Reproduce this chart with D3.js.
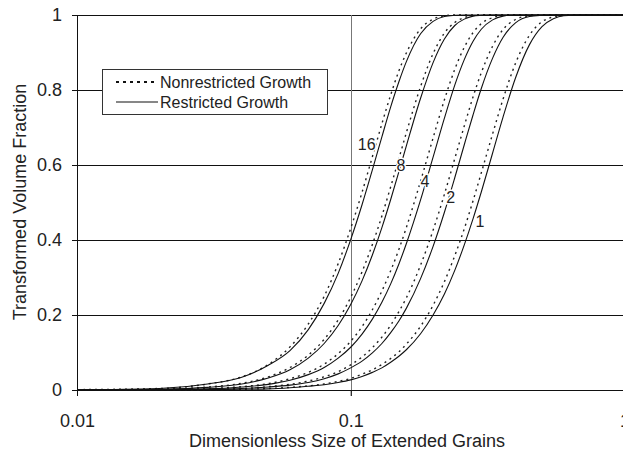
<!DOCTYPE html>
<html><head><meta charset="utf-8">
<script src="https://cdn.jsdelivr.net/npm/d3@7"></script>
<style>
body{margin:0;background:#fff}
svg{display:block}
text{font-family:"Liberation Sans",Arial,sans-serif;fill:#222}
</style>
</head><body>
<svg id="chart" width="623" height="452"></svg>
<script>
// ---- data ----
const xValues = [0.01,0.02,0.03,0.04,0.05,0.06,0.07,0.08,0.09,0.10,0.11,0.12,0.13,0.14,0.15,0.16,0.18,0.20,0.22,0.24,0.26,0.28,0.30,0.33,0.36,0.40,0.45,0.50,0.55,0.60,0.70,0.80,1.0];
const seriesLabels = ["16","8","4","2","1"];
const restricted16 = [0.0005,0.004,0.016,0.034,0.066,0.105,0.161,0.231,0.311,0.401,0.494,0.587,0.675,0.755,0.822,0.877,0.950,0.983,0.996,0.999,1,1,1,1,1,1,1,1,1,1,1,1,1];
const restricted8  = [0,0.002,0.007,0.016,0.032,0.054,0.085,0.124,0.172,0.228,0.291,0.360,0.433,0.508,0.582,0.653,0.778,0.873,0.936,0.972,0.989,0.997,0.999,1,1,1,1,1,1,1,1,1,1];
const restricted4  = [0,0.001,0.003,0.008,0.015,0.026,0.041,0.060,0.085,0.114,0.149,0.189,0.234,0.283,0.336,0.392,0.507,0.621,0.725,0.813,0.881,0.930,0.962,0.987,0.997,1,1,1,1,1,1,1,1];
const restricted2  = [0,0,0.002,0.004,0.008,0.013,0.020,0.030,0.043,0.059,0.077,0.099,0.124,0.153,0.184,0.219,0.297,0.383,0.474,0.566,0.654,0.734,0.804,0.885,0.940,0.979,0.996,0.999,1,1,1,1,1];
const restricted1  = [0,0,0.001,0.002,0.003,0.006,0.010,0.014,0.020,0.027,0.036,0.047,0.059,0.074,0.090,0.108,0.150,0.200,0.256,0.319,0.387,0.457,0.528,0.632,0.727,0.832,0.921,0.969,0.990,0.998,1,1,1];
const nonrestricted16 = [0.001,0.004,0.016,0.035,0.068,0.115,0.176,0.250,0.337,0.431,0.527,0.622,0.710,0.787,0.851,0.900,0.963,0.989,0.998,1,1,1,1,1,1,1,1,1,1,1,1,1,1];
const nonrestricted8  = [0,0.002,0.008,0.018,0.035,0.060,0.093,0.135,0.187,0.247,0.315,0.388,0.464,0.542,0.617,0.688,0.809,0.897,0.952,0.980,0.993,0.998,1,1,1,1,1,1,1,1,1,1,1];
const nonrestricted4  = [0,0.001,0.004,0.009,0.017,0.030,0.047,0.069,0.097,0.130,0.169,0.214,0.264,0.318,0.375,0.435,0.557,0.672,0.774,0.855,0.914,0.953,0.977,0.993,0.999,1,1,1,1,1,1,1,1];
const nonrestricted2  = [0,0.001,0.002,0.004,0.009,0.015,0.024,0.035,0.049,0.067,0.088,0.113,0.141,0.173,0.209,0.247,0.333,0.426,0.522,0.617,0.704,0.782,0.846,0.917,0.961,0.988,0.998,1,1,1,1,1,1];
const nonrestricted1  = [0,0,0.001,0.002,0.004,0.007,0.011,0.016,0.023,0.031,0.042,0.054,0.068,0.084,0.102,0.123,0.170,0.226,0.289,0.358,0.430,0.505,0.579,0.683,0.775,0.871,0.946,0.982,0.995,0.999,1,1,1];
// label anchor positions (data units)
const labelX = [0.1144,0.1527,0.1868,0.2319,0.2968];
const labelY = [0.656,0.600,0.557,0.515,0.449];
const yTicks = [0,0.2,0.4,0.6,0.8,1];
const yTickLabels = ["0","0.2","0.4","0.6","0.8","1"];
const xTicks = [0.01,0.1,1];
const xTickLabels = ["0.01","0.1","1"];
const legendLabels = ["Nonrestricted Growth","Restricted Growth"];
const xTitle = "Dimensionless Size of Extended Grains";
const yTitle = "Transformed Volume Fraction";

// ---- drawing ----
const svg = d3.select("#chart");
const x = d3.scaleLog().domain([0.01,1]).range([77,624.4]);
const y = d3.scaleLinear().domain([0,1]).range([390,15]);

// horizontal gridlines
svg.append("g").selectAll("line").data(yTicks.filter(d=>d>0)).join("line")
  .attr("x1",x(0.01)).attr("x2",x(1)).attr("y1",d=>y(d)).attr("y2",d=>y(d))
  .attr("stroke","#111").attr("stroke-width",1).attr("shape-rendering","crispEdges");
// vertical gridline at 0.1
svg.append("line").attr("x1",Math.round(x(0.1))+0.5).attr("x2",Math.round(x(0.1))+0.5)
  .attr("y1",y(1)).attr("y2",y(0)+6).attr("stroke","#777").attr("stroke-width",1);

// axes
const yAxis = d3.axisLeft(y).tickValues(yTicks).tickFormat((d,i)=>yTickLabels[i]).tickSize(5).tickPadding(10);
const gy = svg.append("g").attr("transform","translate(77,0)").call(yAxis);
gy.select(".domain").attr("stroke","#111");
gy.selectAll(".tick line").attr("stroke","#111");
gy.selectAll("text").attr("font-size",18).attr("fill","#222").attr("font-family","Liberation Sans, Arial, sans-serif");

const xAxis = d3.axisBottom(x).tickValues(xTicks).tickFormat((d,i)=>xTickLabels[i]).tickSize(6).tickPadding(18);
const gx = svg.append("g").attr("transform","translate(0,390)").call(xAxis);
gx.select(".domain").attr("stroke","#111");
gx.selectAll(".tick line").attr("stroke","#111");
gx.selectAll("text").attr("font-size",18).attr("fill","#222").attr("font-family","Liberation Sans, Arial, sans-serif");

// curves
const line = d3.line().x(d=>x(d[0])).y(d=>y(d[1])).curve(d3.curveMonotoneX);
const restricted = [restricted16,restricted8,restricted4,restricted2,restricted1];
const nonrestricted = [nonrestricted16,nonrestricted8,nonrestricted4,nonrestricted2,nonrestricted1];
const gCurves = svg.append("g");
nonrestricted.forEach(s=>{
  gCurves.append("path").datum(xValues.map((v,i)=>[v,s[i]]))
    .attr("d",line).attr("fill","none").attr("stroke","#222")
    .attr("stroke-width",1.4).attr("stroke-dasharray","2,4");
});
restricted.forEach(s=>{
  gCurves.append("path").datum(xValues.map((v,i)=>[v,s[i]]))
    .attr("d",line).attr("fill","none").attr("stroke","#111").attr("stroke-width",1.1);
});

// curve labels
svg.append("g").selectAll("text").data(seriesLabels).join("text")
  .attr("x",(d,i)=>x(labelX[i])).attr("y",(d,i)=>y(labelY[i]))
  .attr("dy","0.36em").attr("text-anchor","middle").attr("font-size",16)
  .attr("stroke","#fff").attr("stroke-width",3).attr("paint-order","stroke")
  .text(d=>d);

// legend
const lg = svg.append("g");
lg.append("rect").attr("x",102.5).attr("y",69.5).attr("width",225).attr("height",45)
  .attr("fill","#fff").attr("stroke","#333").attr("stroke-width",1);
const legendRowY = [82,102];
legendLabels.forEach((t,i)=>{
  lg.append("line").attr("x1",116).attr("x2",158).attr("y1",legendRowY[i]).attr("y2",legendRowY[i])
    .attr("stroke","#111").attr("stroke-width",i===0?2:1.1)
    .attr("stroke-dasharray",i===0?"3,4":null);
  lg.append("text").attr("x",160).attr("y",legendRowY[i]).attr("dy","0.36em")
    .attr("font-size",16).text(t);
});

// axis titles
svg.append("text").attr("x",347).attr("y",447).attr("text-anchor","middle")
  .attr("font-size",18).text(xTitle);
svg.append("text").attr("transform","translate(26,202) rotate(-90)").attr("text-anchor","middle")
  .attr("font-size",18).text(yTitle);
</script>
</body></html>
